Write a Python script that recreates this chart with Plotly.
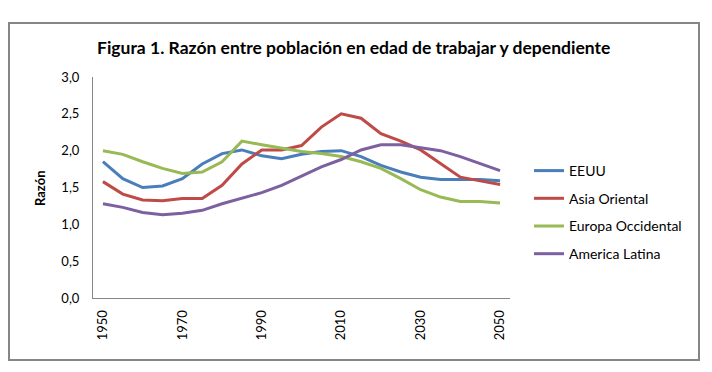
import plotly.graph_objects as go

years = list(range(1950, 2051, 5))
eeuu = [1.85, 1.62, 1.50, 1.52, 1.62, 1.82, 1.96, 2.01, 1.93, 1.89, 1.95, 1.99, 2.00, 1.92, 1.80, 1.71, 1.64, 1.61, 1.61, 1.61, 1.59]
asia = [1.58, 1.41, 1.33, 1.32, 1.35, 1.35, 1.53, 1.82, 2.01, 2.01, 2.07, 2.32, 2.50, 2.44, 2.23, 2.13, 2.01, 1.83, 1.64, 1.59, 1.54]
europa = [2.00, 1.95, 1.85, 1.76, 1.69, 1.71, 1.85, 2.13, 2.08, 2.03, 1.99, 1.96, 1.92, 1.85, 1.76, 1.62, 1.47, 1.37, 1.31, 1.31, 1.29]
latam = [1.28, 1.23, 1.16, 1.13, 1.15, 1.19, 1.28, 1.35, 1.43, 1.53, 1.66, 1.78, 1.88, 2.01, 2.08, 2.08, 2.04, 2.00, 1.92, 1.82, 1.73]
series_names = ["EEUU", "Asia Oriental", "Europa Occidental", "America Latina"]
series_colors = ["#4A7EBB", "#BE4B48", "#98B954", "#7D60A0"]
x_ticks = [1950, 1970, 1990, 2010, 2030, 2050]
title_text = "Figura 1. Razón entre población en edad de trabajar y dependiente"
y_title = "Razón"

FONT = "Lato"
OFF = 8  # page body margin offset

fig = go.Figure()
for i, (name, vals, col) in enumerate(zip(series_names, [eeuu, asia, europa, latam], series_colors)):
    fig.add_trace(go.Scatter(x=years, y=vals, name=name, mode="lines",
                             line=dict(color=col, width=3), legendgroup=str(i)))

W, H = 712 - OFF, 372 - OFF
L, R, T, B = 93 - OFF, 510 - OFF, 77 - OFF, 298 - OFF
pw, ph = R - L, B - T

def px(xp):
    return (xp - OFF - L) / pw

def py(yp):
    return (B - (yp - OFF)) / ph

fig.update_layout(
    width=W, height=H,
    margin=dict(l=L, r=W - R, t=T, b=H - B, autoexpand=False),
    paper_bgcolor="white", plot_bgcolor="white",
    separators=",.",
    font=dict(family=FONT, size=13, color="black"),
    showlegend=True,
    legend=dict(x=px(529), y=py(155), xanchor="left", yanchor="top",
                font=dict(family=FONT, size=14, color="black"),
                tracegroupgap=6.5, itemwidth=30, bgcolor="rgba(0,0,0,0)"),
    xaxis=dict(range=[1947.5, 2052.5], tickvals=x_ticks, tickangle=-90,
               showgrid=False, zeroline=False, showline=True, linecolor="#868686",
               linewidth=1, ticks="", ticklabelstandoff=6,
               tickfont=dict(family=FONT, size=13)),
    yaxis=dict(range=[0, 3], dtick=0.5, tickformat=".1f", showgrid=False,
               zeroline=False, showline=True, linecolor="#868686", linewidth=1,
               ticks="", ticklabelstandoff=10, tickfont=dict(family=FONT, size=13)),
    shapes=[dict(type="rect", xref="paper", yref="paper",
                 x0=px(9), x1=px(699), y0=py(360), y1=py(23),
                 line=dict(color="#868686", width=2), fillcolor="rgba(0,0,0,0)")],
    annotations=[
        dict(text="<b>" + title_text + "</b>", xref="paper", yref="paper",
             x=px(353), y=py(47), xanchor="center", yanchor="middle", showarrow=False,
             font=dict(family=FONT, size=17.5, color="black")),
        dict(text="<b>" + y_title + "</b>", xref="paper", yref="paper",
             x=px(40), y=py(188), xanchor="center", yanchor="middle", showarrow=False,
             textangle=-90, font=dict(family=FONT, size=13, color="black")),
    ],
)

fig.write_html("out.html")
